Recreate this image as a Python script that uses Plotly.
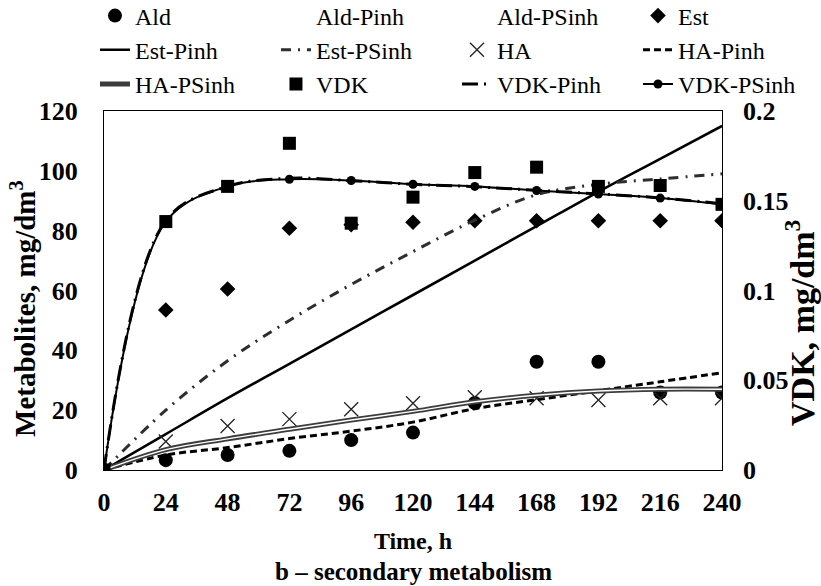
import plotly.graph_objects as go

# Sampling times, h
hours = [0, 24, 48, 72, 96, 120, 144, 168, 192, 216, 240]

# Measured metabolites, mg/dm3
ald = [0, 3.3, 5.0, 6.4, 10.0, 12.5, 22.4, 36.2, 36.2, 25.9, 25.9]
est = [0, 53.5, 60.5, 80.8, 82.0, 82.8, 83.3, 83.3, 83.3, 83.3, 83.3]
ha = [0, 9.5, 14.7, 17.0, 20.3, 22.3, 24.3, 24.0, 23.4, 24.0, 24.0]

# Model curves, mg/dm3
est_pinh = [0, 12.0, 24.0, 35.5, 47.0, 58.5, 70.0, 81.5, 93.0, 104.0, 115.0]
est_psinh = [0, 20.0, 36.5, 50.0, 62.0, 73.0, 83.5, 92.0, 95.5, 97.3, 99.0]
ha_pinh = [0, 5.0, 7.5, 10.5, 13.0, 16.0, 20.5, 23.5, 26.5, 29.5, 32.5]
ha_psinh = [0, 6.8, 10.4, 13.6, 16.7, 19.6, 22.8, 25.0, 26.4, 27.0, 27.0]

# Vicinal diketones, mg/dm3 (right axis)
vdk = [0, 0.1384, 0.158, 0.182, 0.1375, 0.152, 0.1657, 0.1687, 0.158, 0.1585, 0.148]
vdk_pinh = [0, 0.1390, 0.1580, 0.1625, 0.1612, 0.1592, 0.1578, 0.1558, 0.1538, 0.1516, 0.1483]
vdk_psinh = [0, 0.1383, 0.1580, 0.1620, 0.1613, 0.1592, 0.1580, 0.1557, 0.1537, 0.1515, 0.1480]

# Axis ticks
x_ticks = list(range(0, 241, 24))
left_ticks = [0, 20, 40, 60, 80, 100, 120]
right_ticks = [0, 0.05, 0.1, 0.15, 0.2]
right_tick_text = ["0", "0.05", "0.1", "0.15", "0.2"]

SERIF = "Liberation Serif, Times New Roman, serif"
BLACK = "#000000"

fig = go.Figure()

# Row 1 of the legend
fig.add_trace(go.Scatter(x=hours, y=ald, name="Ald", mode="markers",
                         marker=dict(symbol="circle", size=14, color=BLACK)))
fig.add_trace(go.Scatter(x=[None], y=[None], name="Ald-Pinh", mode="lines",
                         line=dict(color="rgba(0,0,0,0)", width=2)))
fig.add_trace(go.Scatter(x=[None], y=[None], name="Ald-PSinh", mode="lines",
                         line=dict(color="rgba(0,0,0,0)", width=2)))
fig.add_trace(go.Scatter(x=hours, y=est, name="Est", mode="markers",
                         marker=dict(symbol="diamond", size=12, color=BLACK)))

# Row 2
fig.add_trace(go.Scatter(x=hours, y=est_pinh, name="Est-Pinh", mode="lines",
                         line=dict(color=BLACK, width=2.6, shape="spline")))
fig.add_trace(go.Scatter(x=hours, y=est_psinh, name="Est-PSinh", mode="lines",
                         line=dict(color="#2e2e2e", width=3, shape="spline",
                                   dash="10px,7px,2px,7px")))
fig.add_trace(go.Scatter(x=hours, y=ha, name="HA", mode="markers",
                         marker=dict(symbol="x-thin-open", size=14, color="#222222",
                                     line=dict(color="#222222", width=1.3))))
fig.add_trace(go.Scatter(x=hours, y=ha_pinh, name="HA-Pinh", mode="lines",
                         line=dict(color=BLACK, width=3, shape="spline",
                                   dash="7px,4px")))

# Row 3
fig.add_trace(go.Scatter(x=hours, y=ha_psinh, name="HA-PSinh", mode="lines",
                         line=dict(color="#3c3c3c", width=5, shape="spline")))
fig.add_trace(go.Scatter(x=hours, y=vdk, name="VDK", mode="markers",
                         yaxis="y2",
                         marker=dict(symbol="square", size=13, color=BLACK)))
fig.add_trace(go.Scatter(x=hours, y=vdk_pinh, name="VDK-Pinh", mode="lines",
                         yaxis="y2",
                         line=dict(color=BLACK, width=3, shape="spline",
                                   dash="16px,6px,2px,6px")))
fig.add_trace(go.Scatter(x=hours, y=vdk_psinh, name="VDK-PSinh",
                         mode="lines+markers", yaxis="y2",
                         line=dict(color=BLACK, width=2, shape="spline"),
                         marker=dict(symbol="circle", size=9, color=BLACK)))

# Light core of the double HA-PSinh line
fig.add_trace(go.Scatter(x=hours, y=ha_psinh, mode="lines", showlegend=False,
                         hoverinfo="skip",
                         line=dict(color="#ffffff", width=1.4, shape="spline")))

tick_font = dict(family=SERIF, size=26, color=BLACK, weight="bold")

fig.update_layout(
    width=821, height=586,
    margin=dict(l=104, r=99, t=111, b=116, autoexpand=False),
    paper_bgcolor="white", plot_bgcolor="white",
    font=dict(family=SERIF, color=BLACK),
    showlegend=True,
    legend=dict(orientation="h", x=-0.0146, xanchor="left",
                y=1.3273, yanchor="top",
                entrywidth=136, entrywidthmode="pixels",
                font=dict(family=SERIF, size=24, color=BLACK),
                bgcolor="rgba(0,0,0,0)", traceorder="normal"),
    xaxis=dict(range=[0, 240], tickvals=x_ticks, ticks="",
               showgrid=False, zeroline=False,
               showline=True, linecolor=BLACK, linewidth=1, mirror=True,
               tickfont=tick_font, ticklabelstandoff=9,
               title=dict(text="Time, h", font=dict(family=SERIF, size=24,
                                                    color=BLACK, weight="bold"),
                          standoff=15)),
    yaxis=dict(range=[0, 120], tickvals=left_ticks, ticks="",
               showgrid=False, zeroline=False,
               showline=True, linecolor=BLACK, linewidth=1, mirror=True,
               tickfont=tick_font, ticklabelstandoff=20),
    yaxis2=dict(range=[0, 0.2], tickvals=right_ticks, ticktext=right_tick_text,
                overlaying="y", side="right", ticks="",
                showgrid=False, zeroline=False, showline=False,
                tickfont=tick_font, ticklabelstandoff=20),
    annotations=[
        dict(text="Metabolites, mg/dm<sup>3</sup>", xref="paper", yref="paper",
             x=-0.1311, y=0.4513, xanchor="center", yanchor="middle",
             textangle=-90, showarrow=False,
             font=dict(family=SERIF, size=29, color=BLACK, weight="bold")),
        dict(text="VDK, mg/dm<sup>3</sup>", xref="paper", yref="paper",
             x=1.1262, y=0.4123, xanchor="center", yanchor="middle",
             textangle=-90, showarrow=False,
             font=dict(family=SERIF, size=34, color=BLACK, weight="bold")),
        dict(text="b – secondary metabolism", xref="paper", yref="paper",
             x=0.5, y=-0.284, xanchor="center", yanchor="middle",
             showarrow=False,
             font=dict(family=SERIF, size=25, color=BLACK, weight="bold")),
    ],
)

fig.write_html("out.html")
